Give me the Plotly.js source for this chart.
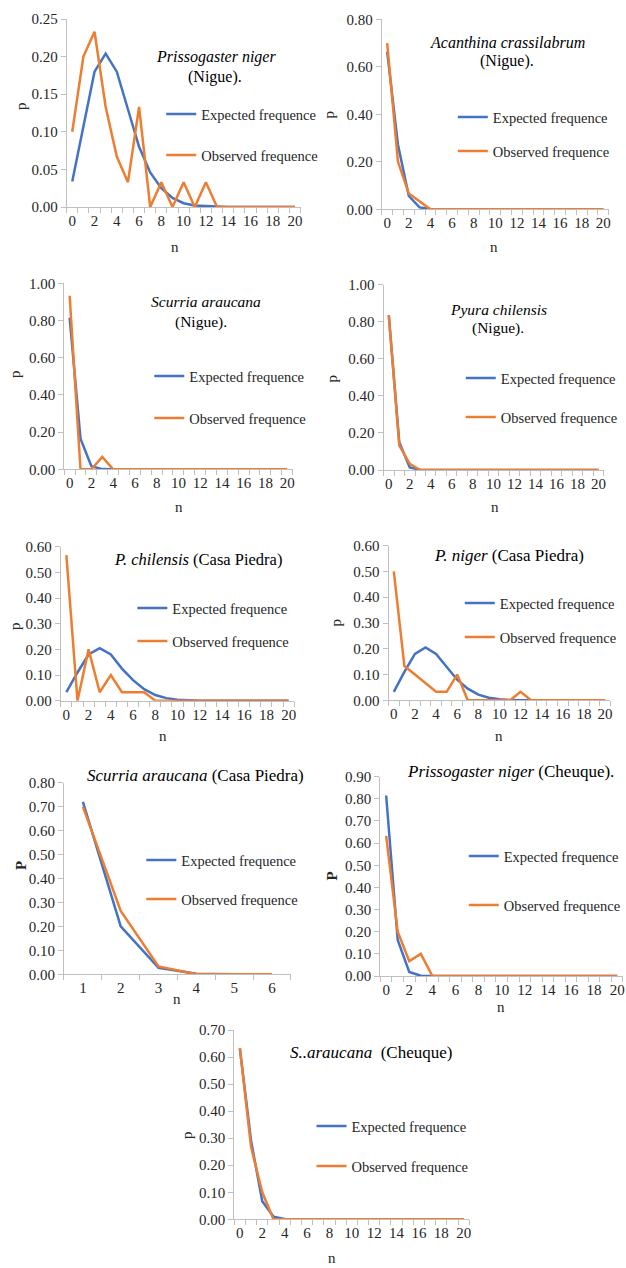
<!DOCTYPE html>
<html>
<head>
<meta charset="utf-8">
<script src="https://cdn.plot.ly/plotly-3.0.1.min.js"></script>
<style>html,body{margin:0;padding:0;background:#fff}#chart{width:626px;height:1268px}</style>
</head>
<body>
<div id="chart"></div>
<script>
// ---------- DATA ----------
const nVals = [0,1,2,3,4,5,6,7,8,9,10,11,12,13,14,15,16,17,18,19,20];
const nScurriaCP = [1,2,3,4,5,6];

const prissoNigueExpected = [0.034,0.105,0.180,0.204,0.180,0.130,0.080,0.046,0.025,0.012,0.005,0.002,0.001,0,0,0,0,0,0,0,0];
const prissoNigueObserved = [0.100,0.200,0.233,0.133,0.067,0.033,0.133,0,0.033,0,0.033,0,0.033,0,0,0,0,0,0,0,0];

const acanthinaNigueExpected = [0.664,0.272,0.056,0.008,0.001,0,0,0,0,0,0,0,0,0,0,0,0,0,0,0,0];
const acanthinaNigueObserved = [0.700,0.200,0.067,0.033,0,0,0,0,0,0,0,0,0,0,0,0,0,0,0,0,0];

const scurriaNigueExpected = [0.815,0.165,0.017,0.001,0,0,0,0,0,0,0,0,0,0,0,0,0,0,0,0,0];
const scurriaNigueObserved = [0.933,0,0,0.067,0,0,0,0,0,0,0,0,0,0,0,0,0,0,0,0,0];

const pyuraNigueExpected = [0.835,0.150,0.014,0.001,0,0,0,0,0,0,0,0,0,0,0,0,0,0,0,0,0];
const pyuraNigueObserved = [0.833,0.133,0.033,0,0,0,0,0,0,0,0,0,0,0,0,0,0,0,0,0,0];

const pyuraCPExpected = [0.033,0.110,0.180,0.205,0.180,0.125,0.080,0.045,0.022,0.010,0.004,0.001,0,0,0,0,0,0,0,0,0];
const pyuraCPObserved = [0.567,0,0.200,0.033,0.100,0.033,0.033,0.033,0,0,0,0,0,0,0,0,0,0,0,0,0];

const prissoCPExpected = [0.033,0.110,0.180,0.205,0.180,0.130,0.080,0.045,0.022,0.010,0.004,0.001,0.001,0,0,0,0,0,0,0,0];
const prissoCPObserved = [0.500,0.133,0.100,0.067,0.033,0.033,0.100,0,0,0,0,0,0.033,0,0,0,0,0,0,0,0];

const scurriaCPExpected = [0.720,0.200,0.027,0.002,0,0];
const scurriaCPObserved = [0.700,0.265,0.033,0,0,0];

const prissoCheuqueExpected = [0.815,0.163,0.018,0.001,0,0,0,0,0,0,0,0,0,0,0,0,0,0,0,0,0];
const prissoCheuqueObserved = [0.633,0.200,0.067,0.100,0,0,0,0,0,0,0,0,0,0,0,0,0,0,0,0,0];

const scurriaCheuqueExpected = [0.631,0.291,0.067,0.010,0.001,0,0,0,0,0,0,0,0,0,0,0,0,0,0,0,0];
const scurriaCheuqueObserved = [0.633,0.267,0.100,0,0,0,0,0,0,0,0,0,0,0,0,0,0,0,0,0,0];

const seriesNames = ['Expected frequence','Observed frequence'];

// ---------- LAYOUT CONFIG (pixel positions) ----------
const W = 626, H = 1268;
const FONT = '"Liberation Serif", "Times New Roman", Times, serif';
const TXT = '#262626';
const AXC = '#BFBFBF';
const BLUE = '#4472C4', ORANGE = '#ED7D31';

const panels = [
  {x:nVals, e:prissoNigueExpected, o:prissoNigueObserved, px:[67,302], py:[19,207], xr:[-0.5,20.5], yr:[0,0.25], dy:0.05,
   titles:[{t:'<i>Prissogaster niger</i>', x:217, y:57, s:16},{t:'(Nigue).', x:216, y:77, s:16}],
   leg:{x:167, y:[114,155]}, nt:{x:176, y:247, t:'n'}, pt:{x:21, y:106, t:'p'}},
  {x:nVals, e:acanthinaNigueExpected, o:acanthinaNigueObserved, px:[383.6,611.7], py:[19.3,209.3], xr:[-0.5,20.5], yr:[0,0.8], dy:0.2,
   titles:[{t:'<i>Acanthina crassilabrum</i>', x:510, y:42, s:16},{t:'(Nigue).', x:509, y:61, s:16}],
   leg:{x:460, y:[117,151]}, nt:{x:496, y:247, t:'n'}, pt:{x:331, y:114, t:'p'}},
  {x:nVals, e:scurriaNigueExpected, o:scurriaNigueObserved, px:[64.5,294], py:[283.3,469.3], xr:[-0.5,20.5], yr:[0,1], dy:0.2,
   titles:[{t:'<i>Scurria araucana</i>', x:207, y:302, s:15.5},{t:'(Nigue).', x:202, y:322, s:15.5}],
   leg:{x:155, y:[376,418]}, nt:{x:180, y:507, t:'n'}, pt:{x:15, y:374, t:'p'}},
  {x:nVals, e:pyuraNigueExpected, o:pyuraNigueObserved, px:[385.4,606.6], py:[284.7,470], xr:[-0.5,20.5], yr:[0,1], dy:0.2,
   titles:[{t:'<i>Pyura chilensis</i>', x:501, y:309, s:15.5},{t:'(Nigue).', x:500, y:328, s:15.5}],
   leg:{x:468, y:[378,417]}, nt:{x:497, y:507, t:'n'}, pt:{x:334, y:378, t:'p'}},
  {x:nVals, e:pyuraCPExpected, o:pyuraCPObserved, px:[61.1,295.6], py:[546.7,700.7], xr:[-0.5,20.5], yr:[0,0.6], dy:0.1,
   titles:[{t:'<i>P. chilensis</i> (Casa Piedra)', x:199, y:560, s:16.5}],
   leg:{x:138, y:[608,641]}, nt:{x:164, y:736, t:'n'}, pt:{x:15, y:626, t:'p'}},
  {x:nVals, e:prissoCPExpected, o:prissoCPObserved, px:[390.4,613.3], py:[545.7,700.3], xr:[-0.5,20.5], yr:[0,0.6], dy:0.1,
   titles:[{t:'<i>P. niger</i> (Casa Piedra)', x:511, y:556, s:17}],
   leg:{x:467, y:[603,637]}, nt:{x:501, y:736, t:'n'}, pt:{x:338, y:622, t:'p'}},
  {x:nScurriaCP, e:scurriaCPExpected, o:scurriaCPObserved, px:[64.3,292.3], py:[782.7,974.3], xr:[0.5,6.5], yr:[0,0.8], dy:0.1, cat6:true,
   titles:[{t:'<i>Scurria araucana</i> (Casa Piedra)', x:196, y:775, s:17}],
   leg:{x:147, y:[860,899]}, nt:{x:178, y:999, t:'n'}, pt:{x:21, y:865, t:'<b>P</b>'}},
  {x:nVals, e:prissoCheuqueExpected, o:prissoCheuqueObserved, px:[382.2,626], py:[776.7,976], xr:[-0.5,20.5], yr:[0,0.9], dy:0.1,
   titles:[{t:'<i>Prissogaster niger</i> (Cheuque).', x:513, y:771, s:17}],
   leg:{x:471, y:[856,905]}, nt:{x:503, y:1007, t:'n'}, pt:{x:334, y:876, t:'<b>P</b>'}},
  {x:nVals, e:scurriaCheuqueExpected, o:scurriaCheuqueObserved, px:[235.4,471.6], py:[1030,1219.3], xr:[-0.5,20.5], yr:[0,0.7], dy:0.1,
   titles:[{t:'<i>S..araucana</i>  (Cheuque)', x:373, y:1052, s:17}],
   leg:{x:318, y:[1126,1166]}, nt:{x:334, y:1258, t:'n'}, pt:{x:188, y:1135, t:'p'}}
];

const fx = p => p / W;
const fy = p => 1 - p / H;
const LEG_OFF = 5;

const data = [];
const layout = {
  width: W, height: H,
  margin: {l:0, r:0, t:0, b:0},
  paper_bgcolor: '#ffffff', plot_bgcolor: 'rgba(0,0,0,0)',
  font: {family: FONT, color: TXT, size: 14},
  showlegend: true,
  annotations: []
};

panels.forEach((p, i) => {
  const k = i + 1;
  const xa = 'x' + (k === 1 ? '' : k), ya = 'y' + (k === 1 ? '' : k);
  const xk = 'xaxis' + (k === 1 ? '' : k), yk = 'yaxis' + (k === 1 ? '' : k);
  const lgE = 'legend' + (2*i+1 === 1 ? '' : (2*i+1));
  const lgO = 'legend' + (2*i+2);

  data.push({type:'scatter', mode:'lines', x:p.x, y:p.e, name:seriesNames[0], xaxis:xa, yaxis:ya,
             line:{color:BLUE, width:2.5}, legend:lgE, hoverinfo:'x+y'});
  data.push({type:'scatter', mode:'lines', x:p.x, y:p.o, name:seriesNames[1], xaxis:xa, yaxis:ya,
             line:{color:ORANGE, width:2.5}, legend:lgO, hoverinfo:'x+y'});

  layout[xk] = {
    domain:[fx(p.px[0]), Math.min(1, fx(p.px[1]))], range:p.xr, anchor:ya,
    showline:true, linecolor:AXC, linewidth:1, showgrid:false, zeroline:false,
    tickmode:'linear', tick0: p.cat6 ? 1 : 0, dtick: p.cat6 ? 1 : 2, ticks:'',
    tickfont:{family:FONT, size:15, color:TXT},
    minor:{ticks:'outside', ticklen:5, tickcolor:AXC, tickwidth:1, tick0: p.cat6 ? 0.5 : -0.5, dtick:1, showgrid:false},
    fixedrange:true
  };
  layout[yk] = {
    domain:[fy(p.py[1]), fy(p.py[0])], range:p.yr, anchor:xa,
    showline:true, linecolor:AXC, linewidth:1, showgrid:false, zeroline:false,
    tickmode:'linear', tick0:0, dtick:p.dy, ticks:'outside', ticklen:5, tickcolor:AXC,
    tickformat:'.2f', tickfont:{family:FONT, size:15, color:TXT}, fixedrange:true
  };

  [lgE, lgO].forEach((lg, j) => {
    layout[lg] = {x:fx(p.leg.x - LEG_OFF), y:fy(p.leg.y[j]), xanchor:'left', yanchor:'middle',
                  xref:'paper', yref:'paper', bgcolor:'rgba(0,0,0,0)', borderwidth:0,
                  font:{family:FONT, size:14.5, color:TXT}, itemwidth:30};
  });

  p.titles.forEach(t => layout.annotations.push({
    text:t.t, x:fx(t.x), y:fy(t.y), xref:'paper', yref:'paper', xanchor:'center', yanchor:'middle',
    showarrow:false, font:{family:FONT, size:t.s, color:'#000'}
  }));
  layout.annotations.push({text:p.nt.t, x:fx(p.nt.x), y:fy(p.nt.y), xref:'paper', yref:'paper',
    xanchor:'center', yanchor:'middle', showarrow:false, font:{family:FONT, size:15, color:TXT}});
  layout.annotations.push({text:p.pt.t, x:fx(p.pt.x), y:fy(p.pt.y), xref:'paper', yref:'paper',
    xanchor:'center', yanchor:'middle', textangle:-90, showarrow:false, font:{family:FONT, size:15, color:TXT}});
});

Plotly.newPlot('chart', data, layout, {displayModeBar:false, staticPlot:true});
</script>
</body>
</html>
